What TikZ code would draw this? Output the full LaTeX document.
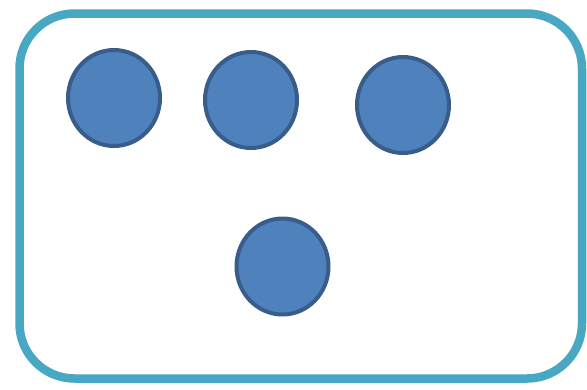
\documentclass[tikz,border=0pt]{standalone}
\usepackage{tikz}
\usetikzlibrary{shapes.geometric}
\definecolor{frameteal}{RGB}{72,168,196}
\definecolor{dotfill}{RGB}{79,129,189}
\definecolor{dotline}{RGB}{56,93,138}
\begin{document}
\begin{tikzpicture}[x=1pt,y=-1pt,
  frame/.style={draw=frameteal,line width=8.5pt,rounded corners=55pt},
  dot/.style={ellipse,draw=dotline,fill=dotfill,line width=4pt,inner sep=0pt,
    minimum width=92pt,minimum height=96pt}]
  \useasboundingbox (0,0) rectangle (587,389);
  \draw[frame] (19.5,13.5) rectangle (582,378.5);
  \node[dot] (d1) at (114,98) {};
  \node[dot] (d2) at (251,100) {};
  \node[dot] (d3) at (403,105) {};
  \node[dot] (d4) at (282.5,266.5) {};
\end{tikzpicture}
\end{document}
